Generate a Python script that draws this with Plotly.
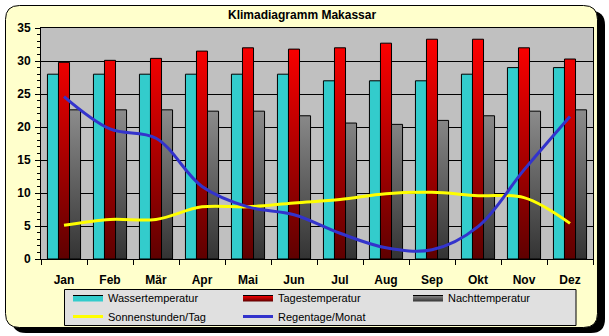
import plotly.graph_objects as go

months = ['Jan', 'Feb', 'Mär', 'Apr', 'Mai', 'Jun', 'Jul', 'Aug', 'Sep', 'Okt', 'Nov', 'Dez']
wasser = [28, 28, 28, 28, 28, 28, 27, 27, 27, 28, 29, 29]
tages = [29.8, 30.1, 30.4, 31.5, 32, 31.8, 32, 32.7, 33.3, 33.3, 32, 30.3]
nacht = [22.6, 22.6, 22.6, 22.4, 22.4, 21.7, 20.6, 20.4, 21, 21.7, 22.4, 22.6]
sonne = [5.1, 6, 6, 7.9, 7.9, 8.5, 9, 9.9, 10.1, 9.6, 9.3, 5.4]
regen = [24.6, 19.7, 18.3, 11, 7.9, 6.7, 3.9, 1.7, 1.4, 4.9, 13.5, 21.6]

idx = list(range(len(months)))
W = 0.24  # bar width in category units

# plot-area pixel geometry
L, R, T, B = 41, 593, 28, 259
PW, PH = R - L, B - T
FW, FH = 609, 336


def P(px, py):
    return ((px - L) / PW, (B - py) / PH)


def rrect(x0, y0, x1, y1, r):
    pts = [
        ('M', [(x0 + r, y0)]), ('L', [(x1 - r, y0)]), ('Q', [(x1, y0), (x1, y0 + r)]),
        ('L', [(x1, y1 - r)]), ('Q', [(x1, y1), (x1 - r, y1)]),
        ('L', [(x0 + r, y1)]), ('Q', [(x0, y1), (x0, y1 - r)]),
        ('L', [(x0, y0 + r)]), ('Q', [(x0, y0), (x0 + r, y0)]),
    ]
    s = ''
    for cmd, ps in pts:
        s += cmd + ' ' + ' '.join('%.5f,%.5f' % P(a, b) for a, b in ps) + ' '
    return s + 'Z'


def bar_outline(vals, shift):
    xs, ys = [], []
    for i, v in zip(idx, vals):
        x0 = i + shift - W / 2
        x1 = i + shift + W / 2
        xs += [x0, x0, x1, x1, x0, None]
        ys += [0, v, v, 0, 0, None]
    return xs, ys


fig = go.Figure()
cx, cy = bar_outline(wasser, -W)
fig.add_trace(go.Scatter(
    x=cx, y=cy, mode='lines', fill='toself', name='Wassertemperatur',
    line=dict(color='black', width=1), fillcolor='#33CCCC',
))
rx, ry = bar_outline(tages, 0)
fig.add_trace(go.Scatter(
    x=rx, y=ry, mode='lines', fill='toself', name='Tagestemperatur',
    line=dict(color='black', width=1),
    fillgradient=dict(type='vertical', colorscale=[[0, '#5E0000'], [1, '#FF0000']]),
))
gx, gy = bar_outline(nacht, W)
fig.add_trace(go.Scatter(
    x=gx, y=gy, mode='lines', fill='toself', name='Nachttemperatur',
    line=dict(color='black', width=1),
    fillgradient=dict(type='vertical', colorscale=[[0, '#333333'], [1, '#8C8C8C']]),
))
fig.add_trace(go.Scatter(
    x=idx, y=sonne, mode='lines', name='Sonnenstunden/Tag',
    line=dict(color='#FFFF00', width=3, shape='spline', smoothing=1),
))
fig.add_trace(go.Scatter(
    x=idx, y=regen, mode='lines', name='Regentage/Monat',
    line=dict(color='#3333CC', width=3, shape='spline', smoothing=1),
))

lx0, ly0 = P(64.5, 289.5)
lx1, ly1 = P(576, 325.5)
shapes = [
    dict(type='path', path=rrect(12, 11, 605, 333, 14), xref='paper', yref='paper',
         fillcolor='black', line=dict(width=0), layer='below'),
    dict(type='path', path=rrect(5.5, 5.5, 597.5, 327.5, 14), xref='paper', yref='paper',
         fillcolor='#FFFFCC', line=dict(color='black', width=1), layer='below'),
    dict(type='rect', x0=0, x1=1, y0=0, y1=1, xref='paper', yref='paper',
         fillcolor='#C0C0C0', line=dict(width=0), layer='below'),
    dict(type='rect', x0=lx0, x1=lx1, y0=ly1, y1=ly0, xref='paper', yref='paper',
         fillcolor='#E0E0E0', line=dict(color='black', width=1), layer='below'),
]

fig.update_layout(
    width=FW, height=FH,
    margin=dict(l=L, r=FW - R, t=T, b=FH - B, autoexpand=False),
    paper_bgcolor='white', plot_bgcolor='rgba(0,0,0,0)',
    shapes=shapes,
    showlegend=True,
    title=dict(text='<b>Klimadiagramm Makassar</b>', x=0.496, xref='container',
               y=1 - 15 / FH, yref='container', xanchor='center', yanchor='middle',
               font=dict(family='Arial, Liberation Sans', size=12, color='black')),
    legend=dict(orientation='h', x=68 / FW, xref='container', xanchor='left',
                y=1 - 283 / FH, yref='container', yanchor='top',
                bgcolor='rgba(0,0,0,0)', borderwidth=0,
                font=dict(family='Arial, Liberation Sans', size=11, color='black'),
                entrywidth=125, entrywidthmode='pixels', traceorder='normal'),
    xaxis=dict(range=[-0.5, 11.5], tickmode='array', tickvals=idx, ticktext=months,
               ticks='', showgrid=False, zeroline=False,
               showline=True, linecolor='black', linewidth=1, mirror=True,
               tickfont=dict(family='Arial, Liberation Sans', size=12, color='black', weight='bold'),
               ticklabelstandoff=10,
               minor=dict(tickmode='linear', tick0=0.5, dtick=1, ticks='outside', ticklen=5,
                          tickcolor='black', showgrid=False)),
    yaxis=dict(range=[0, 35], tick0=0, dtick=5, showgrid=True, gridcolor='black', gridwidth=1,
               zeroline=False, ticks='outside', ticklen=5, tickcolor='black',
               showline=True, linecolor='black', linewidth=1, mirror=True,
               tickfont=dict(family='Arial, Liberation Sans', size=12, color='black', weight='bold'),
               ticklabelstandoff=2,
               minor=dict(dtick=1, ticks='outside', ticklen=3, tickcolor='black', showgrid=False)),
)

fig.write_html('out.html')
